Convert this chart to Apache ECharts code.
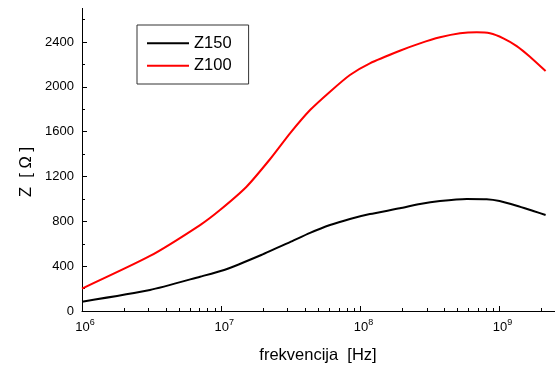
<!DOCTYPE html>
<html>
<head>
<meta charset="utf-8">
<script src="https://cdn.jsdelivr.net/npm/echarts@6/dist/echarts.min.js"></script>
<style>
html,body{margin:0;padding:0;background:#fff;}
#chart{width:555px;height:367px;}
</style>
</head>
<body>
<div id="chart"></div>
<script>
// Frequencies in Hz and impedance in ohm
const freqZ150 = [1e6, 3.08e6, 7.05e6, 1.05e7, 1.94e7, 3.12e7, 4.35e7, 6.05e7, 8.41e7, 1.17e8, 1.92e8, 2.68e8, 3.73e8, 5.81e8, 8.07e8, 1.0e9, 1.327e9, 1.746e9, 2.14e9];
const z150     = [83,  187,    306,    366,    500,    615,    697,    767,    821,    865,    916,    955,    981,    999,    997,    981,   939,     892,     857];
const freqZ100 = [1e6, 3.08e6, 7.05e6, 9.8e6, 1.52e7, 2.24e7, 3.12e7, 4.35e7, 6.05e7, 8.41e7, 1.17e8, 1.92e8, 2.68e8, 3.73e8, 5.2e8, 6.86e8, 8.53e8, 1.064e9, 1.327e9, 1.652e9, 2.14e9];
const z100     = [200, 491,    767,    901,   1109,   1354,   1585,   1793,   1957,   2106,   2210,   2322,   2388,   2442,   2478,  2487,   2478,   2433,    2364,    2269,    2141];
const seriesNames = ['Z150', 'Z100'];
const xDecades = [6, 7, 8, 9];             // 10^6 .. 10^9
const xMinorMult = [2, 3, 4, 5, 6, 7, 8, 9];
const yMajor = [0, 400, 800, 1200, 1600, 2000, 2400];
const yMinor = [200, 600, 1000, 1400, 1800, 2200, 2600];
const xMin = 6, xMax = Math.log10(2.5e9), yMin = 0, yMax = 2700;

const xMinorVals = [];
xDecades.forEach(d => xMinorMult.forEach(m => { const v = d + Math.log10(m); if (v <= xMax) xMinorVals.push(v); }));

const FONT = 'Liberation Sans, Arial, Helvetica, sans-serif';
const toPts = (f, z) => f.map((v, i) => [Math.log10(v), z[i]]);

const chart = echarts.init(document.getElementById('chart'), null, {renderer: 'canvas'});
const axisLineStyle = {color: '#000', width: 1};
chart.setOption({
  animation: false,
  backgroundColor: '#fff',
  grid: {left: 82, right: 0, top: 8.4, bottom: 56, containLabel: false},
  xAxis: [{
    type: 'value', min: xMin, max: xMax, position: 'bottom',
    axisLine: {show: true, lineStyle: axisLineStyle},
    axisTick: {show: true, inside: true, length: 5, lineStyle: axisLineStyle, customValues: xDecades},
    axisLabel: {
      show: true, customValues: xDecades, margin: 7, padding: [0, 0, 0, 6],
      formatter: v => '{b|10}{s|' + Math.round(v) + '}',
      rich: {
        b: {fontSize: 13, fontFamily: FONT, color: '#000', verticalAlign: 'bottom'},
        s: {fontSize: 9, fontFamily: FONT, color: '#000', verticalAlign: 'top', padding: [0, 0, 7, 0]}
      }
    },
    splitLine: {show: false}
  }, {
    type: 'value', min: xMin, max: xMax, position: 'bottom',
    axisLine: {show: false},
    axisTick: {show: true, inside: true, length: 3, lineStyle: axisLineStyle, customValues: xMinorVals},
    axisLabel: {show: false},
    splitLine: {show: false}
  }],
  yAxis: [{
    type: 'value', min: yMin, max: yMax, position: 'left',
    axisLine: {show: true, lineStyle: axisLineStyle},
    axisTick: {show: true, inside: true, length: 5, lineStyle: axisLineStyle, customValues: yMajor},
    axisLabel: {show: true, customValues: yMajor, margin: 8, fontSize: 13, fontFamily: FONT, color: '#000', formatter: v => String(v)},
    splitLine: {show: false}
  }, {
    type: 'value', min: yMin, max: yMax, position: 'left',
    axisLine: {show: false},
    axisTick: {show: true, inside: true, length: 3, lineStyle: axisLineStyle, customValues: yMinor},
    axisLabel: {show: false},
    splitLine: {show: false}
  }],
  legend: {
    orient: 'vertical', left: 137, top: 25,
    padding: [9.7, 17, 9.7, 10],
    borderColor: '#333', borderWidth: 1, backgroundColor: '#fff',
    icon: 'rect', itemWidth: 42, itemHeight: 2, itemGap: 5.6,
    textStyle: {fontSize: 16.5, fontFamily: FONT, color: '#000', lineHeight: 16},
    data: seriesNames
  },
  graphic: [
    {type: 'text', x: 318, y: 355, style: {text: 'frekvencija  [Hz]', font: '16.5px ' + FONT, fill: '#000', align: 'center', verticalAlign: 'middle'}},
    {type: 'text', x: 26, y: 172, rotation: Math.PI / 2, style: {text: 'Z  [ Ω ]', font: '16.5px ' + FONT, fill: '#000', align: 'center', verticalAlign: 'middle'}}
  ],
  series: [{
    name: seriesNames[0], type: 'line', xAxisIndex: 0, yAxisIndex: 0,
    data: toPts(freqZ150, z150), showSymbol: false, symbol: 'none', smooth: 0.2,
    lineStyle: {color: '#000', width: 2}, itemStyle: {color: '#000'}
  }, {
    name: seriesNames[1], type: 'line', xAxisIndex: 0, yAxisIndex: 0,
    data: toPts(freqZ100, z100), showSymbol: false, symbol: 'none', smooth: 0.2,
    lineStyle: {color: '#ff0000', width: 2}, itemStyle: {color: '#ff0000'}
  }]
});
</script>
</body>
</html>
